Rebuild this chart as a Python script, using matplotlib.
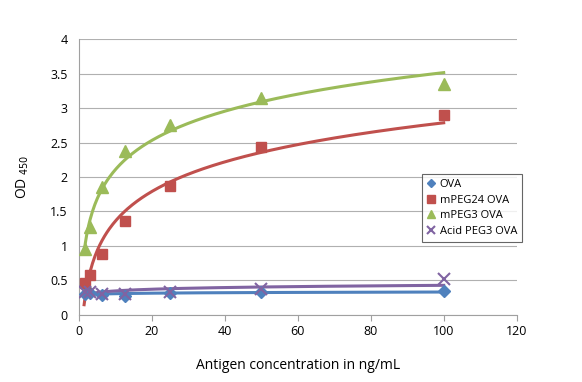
import numpy as np
import matplotlib.pyplot as plt
from matplotlib.ticker import FuncFormatter

plt.rcParams['font.family'] = ['Open Sans', 'DejaVu Sans']

conc = [1.5625, 3.125, 6.25, 12.5, 25, 50, 100]
ova = [0.30, 0.32, 0.29, 0.27, 0.32, 0.33, 0.35]
mpeg24 = [0.47, 0.58, 0.88, 1.36, 1.87, 2.44, 2.90]
mpeg3 = [0.95, 1.28, 1.85, 2.38, 2.75, 3.15, 3.35]
acid = [0.33, 0.34, 0.30, 0.30, 0.33, 0.38, 0.52]

series = [
    ("OVA", ova, "#4F81BD", "D", 6),
    ("mPEG24 OVA", mpeg24, "#C0504D", "s", 7.5),
    ("mPEG3 OVA", mpeg3, "#9BBB59", "^", 8),
    ("Acid PEG3 OVA", acid, "#8064A2", "x", 8),
]

fig = plt.figure(figsize=(5.82, 3.82), dpi=100)
ax = fig.add_axes([0.1357, 0.1754, 0.752, 0.7225])

x = np.array(conc)
xs = np.linspace(x[0] * 0.9, x[-1], 300)
for name, vals, col, mk, ms in series:
    # logarithmic trendline (like Excel)
    b, a = np.polyfit(np.log(x), np.array(vals), 1)
    ax.plot(xs, a + b * np.log(xs), color=col, lw=2.2, zorder=2)
    if mk == "x":
        ax.plot(x, vals, linestyle="none", marker=mk, color=col, ms=ms, mew=1.5, zorder=3, label=name)
    else:
        ax.plot(x, vals, linestyle="none", marker=mk, color=col, ms=ms, zorder=3, label=name)

ax.set_xlim(0, 120)
ax.set_ylim(0, 4)
ax.set_xticks(range(0, 121, 20))
ax.set_yticks(np.arange(0, 4.01, 0.5))
ax.yaxis.set_major_formatter(FuncFormatter(lambda v, p: f"{v:g}"))
ax.grid(axis="y", color="#b0b0b0", lw=0.8)
ax.set_axisbelow(True)
for s in ["top", "right"]:
    ax.spines[s].set_visible(False)
for s in ["left", "bottom"]:
    ax.spines[s].set_color("#a0a0a0")
ax.tick_params(axis="x", direction="out", length=4, color="#a0a0a0", labelsize=9)
ax.tick_params(axis="y", length=0, labelsize=9, pad=8)

ax.set_xlabel("Antigen concentration in ng/mL", fontsize=10, labelpad=14)
ax.set_ylabel(r"OD $_{450}$", fontsize=10, labelpad=14)

leg = ax.legend(loc="upper left", bbox_to_anchor=(0.77, 0.53), fontsize=8,
                frameon=True, fancybox=False, edgecolor="#404040",
                handlelength=0.8, handletextpad=0.4, borderpad=0.45,
                labelspacing=0.4, markerscale=0.7)
leg.get_frame().set_linewidth(0.8)

fig.savefig("out.png", dpi=100)
